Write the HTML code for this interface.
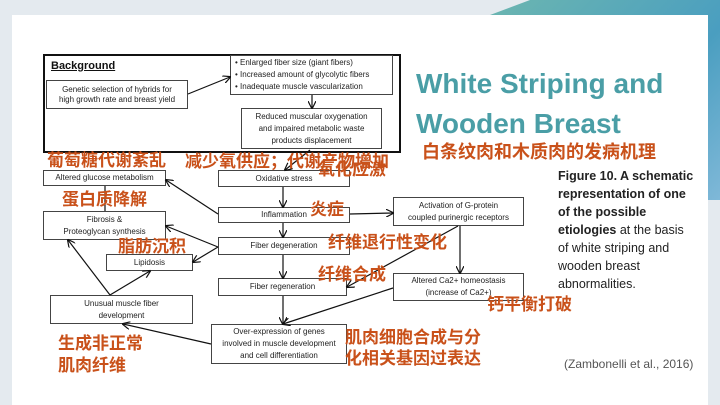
<!DOCTYPE html>
<html><head><meta charset="utf-8"><style>
body{margin:0;width:720px;height:405px;overflow:hidden;background:#e4eaef;position:relative;font-family:"Liberation Sans","Noto Sans CJK SC",sans-serif}
.card{position:absolute;left:12px;top:15px;width:696px;height:390px;background:#fff}
.deco{position:absolute;left:490px;top:0;width:230px;height:200px;background:linear-gradient(135deg,#6cb6b0,#4a9ec0 60%,#7fb8d8);clip-path:polygon(0 15px,40px 0,230px 0,230px 200px,210px 200px,210px 15px)}
.b{position:absolute;border:1px solid #444;background:#fff;font-size:8px;color:#222;text-align:center;line-height:10px;display:flex;align-items:center;justify-content:center;box-sizing:border-box}
.c{position:absolute;color:#c9511a;font-weight:bold;font-size:17px;line-height:20px;white-space:nowrap}
svg{position:absolute;left:0;top:0}
</style></head><body>
<div class="deco"></div>
<div class="card"></div>
<div style="position:absolute;left:43px;top:54px;width:358px;height:99px;border:2px solid #111;box-sizing:border-box;background:#fff"></div>
<div style="position:absolute;left:51px;top:60px;font-size:11px;font-weight:bold;text-decoration:underline;color:#111">Background</div>
<div class="b" style="left:46px;top:80px;width:142px;height:29px">Genetic selection of hybrids for<br>high growth rate and breast yield</div>
<div class="b" style="left:230px;top:55px;width:163px;height:40px;justify-content:flex-start;text-align:left;padding-left:4px;line-height:12px">• Enlarged fiber size (giant fibers)<br>• Increased amount of glycolytic fibers<br>• Inadequate muscle vascularization</div>
<div class="b" style="left:241px;top:108px;width:141px;height:41px;line-height:12px">Reduced muscular oxygenation<br>and impaired metabolic waste<br>products displacement</div>
<div class="b" style="left:43px;top:170px;width:123px;height:16px">Altered glucose metabolism</div>
<div class="b" style="left:218px;top:170px;width:132px;height:17px">Oxidative stress</div>
<div class="b" style="left:43px;top:211px;width:123px;height:29px;line-height:12px">Fibrosis &amp;<br>Proteoglycan synthesis</div>
<div class="b" style="left:218px;top:207px;width:132px;height:16px">Inflammation</div>
<div class="b" style="left:393px;top:197px;width:131px;height:29px;line-height:12px">Activation of G-protein<br>coupled purinergic receptors</div>
<div class="b" style="left:218px;top:237px;width:132px;height:18px">Fiber degeneration</div>
<div class="b" style="left:106px;top:254px;width:87px;height:17px">Lipidosis</div>
<div class="b" style="left:218px;top:278px;width:129px;height:18px">Fiber regeneration</div>
<div class="b" style="left:393px;top:273px;width:131px;height:28px;line-height:12px">Altered Ca2+ homeostasis<br>(increase of Ca2+)</div>
<div class="b" style="left:50px;top:295px;width:143px;height:29px;line-height:12px">Unusual muscle fiber<br>development</div>
<div class="b" style="left:211px;top:324px;width:136px;height:40px;line-height:12px">Over-expression of genes<br>involved in muscle development<br>and cell differentiation</div>
<svg width="720" height="405"><defs><marker id="a" markerWidth="8" markerHeight="8" refX="7" refY="4" orient="auto" markerUnits="userSpaceOnUse"><path d="M0,0L8,4L0,8" fill="none" stroke="#111" stroke-width="1.2"/></marker></defs>
<g stroke="#111" stroke-width="1.2" fill="none" marker-end="url(#a)">
<line x1="188" y1="94" x2="230" y2="77"/>
<line x1="312" y1="95" x2="312" y2="108"/>
<line x1="310" y1="150" x2="285" y2="170"/>
<line x1="283" y1="187" x2="283" y2="207"/>
<line x1="218" y1="214" x2="166" y2="180"/>
<line x1="350" y1="214" x2="393" y2="213"/>
<line x1="283" y1="223" x2="283" y2="237"/>
<line x1="218" y1="247" x2="166" y2="226"/>
<line x1="218" y1="247" x2="193" y2="262"/>
<line x1="283" y1="255" x2="283" y2="278"/>
<line x1="460" y1="226" x2="460" y2="273"/>
<line x1="458" y1="226" x2="347" y2="287"/>
<line x1="393" y1="288" x2="283" y2="324"/>
<line x1="283" y1="296" x2="283" y2="324"/>
<line x1="211" y1="344" x2="123" y2="324"/>
<line x1="110" y1="295" x2="68" y2="240"/>
<line x1="110" y1="295" x2="150" y2="271"/>
</g>
<line x1="105" y1="186" x2="105" y2="211" stroke="#111" stroke-width="1.2"/>
</svg>
<div class="c" style="left:47px;top:151px">葡萄糖代谢紊乱</div>
<div class="c" style="left:185px;top:152px">减少氧供应；代谢产物增加</div>
<div class="c" style="left:318px;top:160px">氧化应激</div>
<div class="c" style="left:62px;top:190px">蛋白质降解</div>
<div class="c" style="left:118px;top:237px">脂肪沉积</div>
<div class="c" style="left:310px;top:200px">炎症</div>
<div class="c" style="left:328px;top:233px">纤维退行性变化</div>
<div class="c" style="left:318px;top:265px">纤维合成</div>
<div class="c" style="left:487px;top:295px">钙平衡打破</div>
<div class="c" style="left:58px;top:333px;line-height:22px">生成非正常<br>肌肉纤维</div>
<div class="c" style="left:345px;top:327px;line-height:21px">肌肉细胞合成与分<br>化相关基因过表达</div>
<div style="position:absolute;left:416px;top:64px;color:#4a9ea6;font-weight:bold;font-size:28px;line-height:40px;white-space:nowrap">White Striping and<br>Wooden Breast</div>
<div class="c" style="left:422px;top:142px;font-size:18px">白条纹肉和木质肉的发病机理</div>
<div style="position:absolute;left:558px;top:167px;font-size:12.5px;line-height:18px;color:#222;white-space:nowrap"><b>Figure 10. A schematic<br>representation of one<br>of the possible<br>etiologies</b> at the basis<br>of white striping and<br>wooden breast<br>abnormalities.</div>
<div style="position:absolute;left:564px;top:357px;font-size:12px;color:#555">(Zambonelli et al., 2016)</div>
</body></html>
